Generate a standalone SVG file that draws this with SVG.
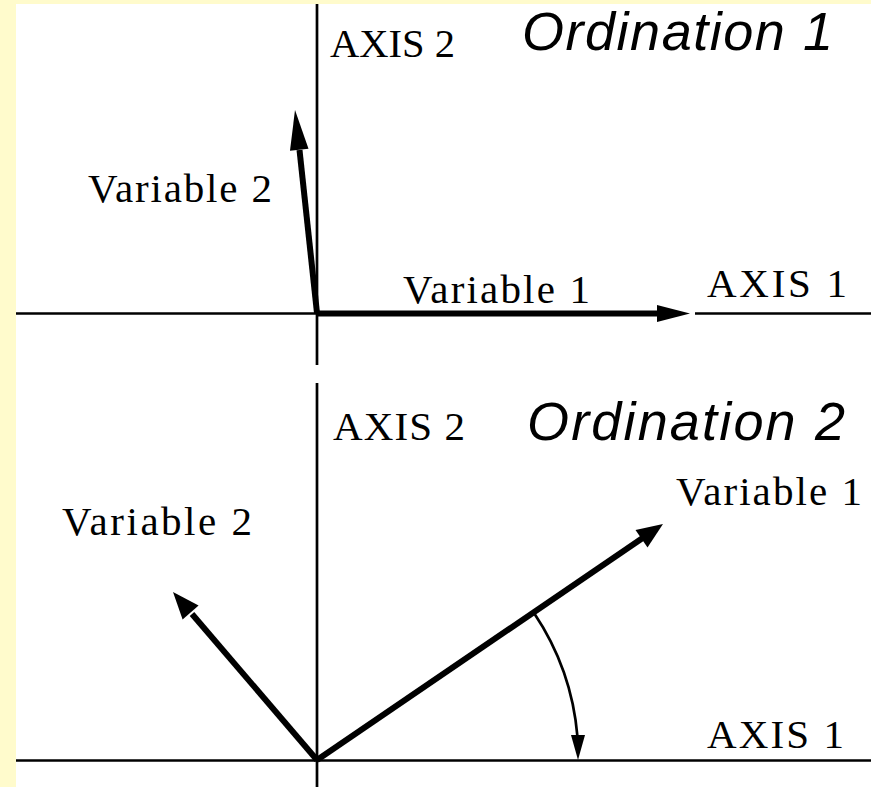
<svg xmlns="http://www.w3.org/2000/svg" width="871" height="787" viewBox="0 0 871 787">
<style>
.bg{fill:#FFFBCC}
.axis{stroke:#000;stroke-width:2.7;fill:none}
.vec{stroke:#000;stroke-width:6;fill:none}
.thin{stroke:#000;stroke-width:2.7;fill:none}
.head{fill:#000;stroke:none}
.lbl{font-family:"Liberation Serif","Times New Roman",serif;font-size:41px;fill:#000}
.ttl{font-family:"Liberation Sans",Arial,sans-serif;font-style:italic;font-size:54px;fill:#000}
</style>
<rect x="0" y="0" width="871" height="787" fill="#fff"/>
<rect class="bg" x="0" y="0" width="16" height="787"/>
<rect class="bg" x="0" y="0" width="871" height="4"/>
<g id="axes">
<line class="axis" x1="16" y1="313.5" x2="317" y2="313.5"/>
<line class="axis" x1="695" y1="313.5" x2="871" y2="313.5"/>
<line class="axis" x1="317" y1="4" x2="317" y2="365"/>
<line class="axis" x1="317" y1="383" x2="317" y2="787"/>
<line class="axis" x1="16" y1="760.5" x2="871" y2="760.5"/>
</g>
<g id="connectors">
<line class="vec" x1="317" y1="313.5" x2="660" y2="313.5"/>
<polygon class="head" points="690,313.5 657,305 657,322"/>
<line class="vec" x1="317" y1="313" x2="299.5" y2="150"/>
<polygon class="head" points="295,110 308.5,148.8 290,150.8"/>
<line class="vec" x1="317" y1="760" x2="192" y2="614"/>
<polygon class="head" points="173,592 198.6,605.5 182.6,619.5"/>
<line class="vec" x1="317" y1="760" x2="643" y2="537.7"/>
<polygon class="head" points="663,524 647.5,547.5 635.5,530"/>
<path class="thin" d="M 534 613 A 261 261 0 0 1 577.5 737"/>
<polygon class="head" points="578,760 571,735 585,735"/>
</g>
<g id="ordination1">
<text class="lbl" x="330" y="57" textLength="125" lengthAdjust="spacingAndGlyphs">AXIS 2</text>
<text class="ttl" x="522" y="50" textLength="311" lengthAdjust="spacing">Ordination 1</text>
<text class="lbl" x="88" y="202" textLength="184" lengthAdjust="spacing">Variable 2</text>
<text class="lbl" x="403" y="303" textLength="187" lengthAdjust="spacing">Variable 1</text>
<text class="lbl" x="707" y="297" textLength="140" lengthAdjust="spacing">AXIS 1</text>
</g>
<g id="ordination2">
<text class="lbl" x="333" y="440" textLength="132" lengthAdjust="spacing">AXIS 2</text>
<text class="ttl" x="527" y="440" textLength="318" lengthAdjust="spacing">Ordination 2</text>
<text class="lbl" x="676" y="505" textLength="186" lengthAdjust="spacing">Variable 1</text>
<text class="lbl" x="62" y="535" textLength="190" lengthAdjust="spacing">Variable 2</text>
<text class="lbl" x="707" y="748" textLength="137" lengthAdjust="spacing">AXIS 1</text>
</g>
</svg>
